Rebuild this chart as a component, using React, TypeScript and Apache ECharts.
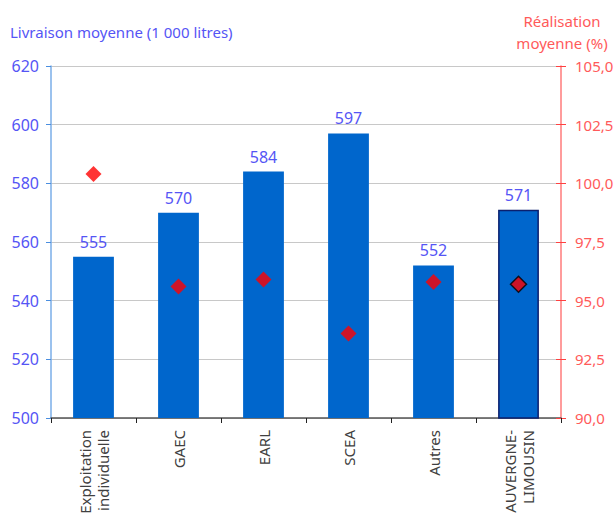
import React, { useEffect, useRef } from "react";
import * as echarts from "echarts";

const categories = ["Exploitation\nindividuelle", "GAEC", "EARL", "SCEA", "Autres", "AUVERGNE-\nLIMOUSIN"];
const livraison = [555, 570, 584, 597, 552, 571];
const realisation = [100.4, 95.6, 95.9, 93.6, 95.8, 95.7];
const leftTicks = { min: 500, max: 620, interval: 20 };
const rightTicks = { min: 90, max: 105, interval: 2.5 };

const BLUE_TXT = "#5555f5";
const RED_TXT = "#ff5a5a";
const FONT = "Noto Sans";

export default function App() {
  const ref = useRef<HTMLDivElement>(null);
  useEffect(() => {
    if (!ref.current) return;
    const chart = echarts.init(ref.current, null, { renderer: "svg" });
    const n = categories.length;
    chart.setOption({
      animation: false,
      textStyle: { fontFamily: FONT },
      grid: { left: 51, right: 55, top: 66, bottom: 97, containLabel: false, outerBoundsMode: "none" },
      graphic: [
        {
          type: "text",
          left: 10,
          top: 24,
          style: { text: "Livraison moyenne (1 000 litres)", fill: BLUE_TXT, font: `15px "${FONT}"` },
        },
        {
          type: "text",
          x: 562,
          y: 10,
          style: { text: "Réalisation\nmoyenne (%)", fill: RED_TXT, font: `15px "${FONT}"`, align: "center", lineHeight: 22 },
        },
      ],
      xAxis: {
        type: "category",
        data: categories,
        axisLine: { lineStyle: { color: "#555555", width: 1.5 } },
        axisTick: { show: true, length: 5, lineStyle: { color: "#222" } },
        axisLabel: {
          rotate: 90,
          color: "#404040",
          fontSize: 15,
          margin: 12,
          lineHeight: 18,
          interval: 0,
        },
      },
      yAxis: [
        {
          type: "value",
          min: leftTicks.min,
          max: leftTicks.max,
          interval: leftTicks.interval,
          axisLine: { show: true, lineStyle: { color: "#7aaee8", width: 1.5 } },
          axisTick: { show: true, length: 5, lineStyle: { color: "#4a8ee0" } },
          axisLabel: { color: BLUE_TXT, fontSize: 16, margin: 12 },
          splitLine: { lineStyle: { color: "#c8c8c8" } },
        },
        {
          type: "value",
          min: rightTicks.min,
          max: rightTicks.max,
          interval: rightTicks.interval,
          position: "right",
          axisLine: { show: true, lineStyle: { color: "#ff7b7b", width: 1.5 } },
          axisTick: { show: true, length: 5, lineStyle: { color: "#ff4040" } },
          axisLabel: {
            color: RED_TXT,
            fontSize: 15,
            margin: 14,
            formatter: (v: number) => v.toFixed(1).replace(".", ","),
          },
          splitLine: { show: false },
        },
        {
          type: "value",
          min: rightTicks.min,
          max: rightTicks.max,
          interval: rightTicks.interval,
          position: "right",
          axisLine: { show: false },
          axisTick: { show: true, inside: true, length: 5, lineStyle: { color: "#ff4040" } },
          axisLabel: { show: false },
          splitLine: { show: false },
        },
      ],
      series: [
        {
          type: "bar",
          yAxisIndex: 0,
          barWidth: "48%",
          data: livraison.map((v, i) => ({
            value: v,
            itemStyle:
              i === n - 1
                ? { color: "#0066cc", borderColor: "#0a1f6e", borderWidth: 1.5 }
                : { color: "#0066cc" },
          })),
          label: { show: true, position: "top", color: BLUE_TXT, fontSize: 16, distance: 7 },
        },
        {
          type: "scatter",
          yAxisIndex: 1,
          symbol: "diamond",
          symbolSize: [16, 16],
          data: realisation.map((v, i) => ({
            value: v,
            itemStyle:
              i === n - 1
                ? { color: "#ff0000", borderColor: "#000", borderWidth: 1.5 }
                : { color: "#ff0000" },
          })),
          z: 5,
        },
      ],
    });
    return () => chart.dispose();
  }, []);
  return (
    <div
      ref={ref}
      style={{ position: "fixed", left: 0, top: 0, width: 616, height: 515, background: "#fff" }}
    />
  );
}
